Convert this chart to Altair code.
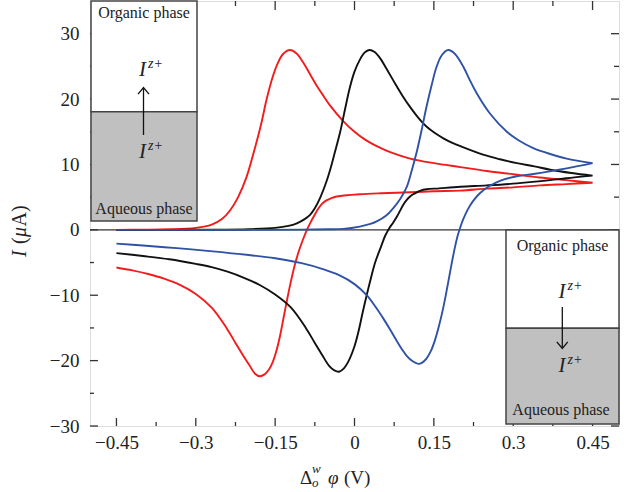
import altair as alt
import pandas as pd

# ---------------- data (potential in V, current in uA) -------------
red_fwd_x = [-0.45, -0.40, -0.35, -0.30, -0.27, -0.25, -0.235, -0.22, -0.204, -0.19, -0.177, -0.166,
             -0.155, -0.145, -0.135, -0.122, -0.11, -0.097, -0.084, -0.071, -0.058, -0.046, -0.021,
             0.0, 0.02, 0.042, 0.07, 0.105, 0.15, 0.2, 0.25, 0.3, 0.35, 0.4, 0.45]
red_fwd_y = [0.0, 0.02, 0.08, 0.3, 0.8, 1.7, 3.0, 5.0, 8.1, 12.0, 16.0, 20.0,
             23.3, 25.5, 26.9, 27.5, 27.0, 25.6, 23.8, 22.0, 20.4, 19.0, 16.6,
             15.0, 13.8, 12.8, 11.8, 10.9, 10.2, 9.6, 9.0, 8.5, 8.0, 7.6, 7.2]
red_rev_x = [0.45, 0.4, 0.35, 0.3, 0.25, 0.2, 0.15, 0.105, 0.05, 0.01, -0.02, -0.034, -0.045, -0.053,
             -0.061, -0.068, -0.076, -0.084, -0.09, -0.097, -0.105, -0.113, -0.12, -0.127, -0.134,
             -0.141, -0.148, -0.155, -0.162, -0.17, -0.179, -0.188, -0.198, -0.21, -0.225, -0.242,
             -0.27, -0.30, -0.33, -0.36, -0.39, -0.42, -0.45]
red_rev_y = [7.2, 7.0, 6.8, 6.5, 6.3, 6.0, 5.9, 5.75, 5.6, 5.45, 5.25, 5.1, 4.8, 4.5,
             4.0, 3.3, 2.2, 1.0, 0.0, -1.4, -3.2, -5.4, -7.8, -10.5, -13.4,
             -16.3, -18.6, -20.3, -21.4, -22.1, -22.4, -22.0, -20.8, -19.3, -17.3, -15.0,
             -11.9, -9.8, -8.4, -7.45, -6.75, -6.2, -5.75]

black_fwd_x = [-0.45, -0.35, -0.25, -0.2, -0.15, -0.125, -0.109, -0.095, -0.084, -0.075, -0.065,
               -0.053, -0.046, -0.037, -0.027, -0.018, -0.009, 0.0, 0.01, 0.019, 0.028, 0.038,
               0.048, 0.06, 0.073, 0.09, 0.105, 0.12, 0.136, 0.152, 0.168, 0.185, 0.2, 0.243,
               0.275, 0.307, 0.34, 0.37, 0.41, 0.45]
black_fwd_y = [0.0, 0.0, 0.03, 0.1, 0.3, 0.6, 1.0, 1.6, 2.3, 3.3, 4.9,
               7.4, 9.2, 11.9, 15.0, 18.4, 21.7, 24.2, 26.0, 27.1, 27.5, 27.2,
               26.3, 24.7, 22.9, 20.6, 18.8, 17.2, 15.8, 14.8, 14.0, 13.3, 12.8, 11.5,
               10.8, 10.2, 9.7, 9.2, 8.7, 8.3]
black_rev_x = [0.45, 0.4, 0.37, 0.307, 0.25, 0.2, 0.16, 0.136, 0.125, 0.117, 0.11, 0.105, 0.098,
               0.092, 0.086, 0.08, 0.073, 0.066, 0.058, 0.05, 0.039, 0.031, 0.023, 0.015, 0.008,
               0.0, -0.012, -0.02, -0.029, -0.038, -0.048, -0.06, -0.075, -0.092, -0.12, -0.15,
               -0.18, -0.21, -0.24, -0.27, -0.3, -0.35, -0.4, -0.45]
black_rev_y = [8.3, 7.9, 7.6, 7.1, 6.8, 6.6, 6.35, 6.2, 6.0, 5.7, 5.4, 5.1, 4.5,
               3.8, 2.9, 2.0, 1.1, 0.3, -0.9, -2.6, -5.0, -7.4, -10.0, -12.8, -15.4,
               -17.8, -20.2, -21.2, -21.7, -21.5, -20.8, -19.3, -17.3, -15.0, -11.9, -9.9,
               -8.4, -7.3, -6.4, -5.7, -5.2, -4.5, -4.0, -3.56]

blue_fwd_x = [-0.45, -0.2, -0.1, -0.05, -0.021, 0.01, 0.03, 0.042, 0.06, 0.073, 0.087, 0.099,
              0.108, 0.117, 0.127, 0.136, 0.146, 0.155, 0.165, 0.177, 0.19, 0.206, 0.218, 0.231,
              0.256, 0.288, 0.31, 0.338, 0.37, 0.401, 0.45]
blue_fwd_y = [0.0, 0.0, 0.03, 0.08, 0.15, 0.5, 0.9, 1.3, 2.2, 3.3, 4.8, 6.6,
              9.0, 11.7, 15.3, 18.8, 22.2, 24.9, 26.7, 27.5, 26.9, 24.9, 22.9, 20.9,
              17.8, 15.0, 13.7, 12.5, 11.6, 10.9, 10.2]
blue_rev_x = [0.45, 0.401, 0.338, 0.307, 0.275, 0.255, 0.237, 0.224, 0.214, 0.206, 0.2, 0.195,
              0.19, 0.185, 0.179, 0.173, 0.167, 0.16, 0.152, 0.144, 0.136, 0.128, 0.121, 0.11,
              0.099, 0.09, 0.08, 0.067, 0.054, 0.04, 0.023, 0.0, -0.03, -0.06, -0.1, -0.15,
              -0.2, -0.273, -0.336, -0.4, -0.45]
blue_rev_y = [10.2, 9.4, 8.55, 8.2, 7.5, 6.7, 5.6, 4.4, 3.1, 1.7, 0.4, -0.9,
              -2.6, -4.6, -7.2, -9.8, -12.2, -14.6, -16.9, -18.6, -19.7, -20.3, -20.5, -20.1,
              -19.3, -18.3, -17.0, -15.2, -13.5, -11.8, -10.0, -8.3, -6.9, -6.0, -5.1, -4.35,
              -3.85, -3.25, -2.8, -2.4, -2.1]

curve_names = ["red", "black", "blue"]
curve_colors = ["#f21c1c", "#111111", "#2f52a5"]

x_major = [-0.45, -0.3, -0.15, 0, 0.15, 0.3, 0.45]
x_minor = [-0.375, -0.225, -0.075, 0.075, 0.225, 0.375]
y_major = [-30, -20, -10, 0, 10, 20, 30]
y_minor = [-25, -15, -5, 5, 15, 25]

# ---------------- build table ----------------
rows = []
for name, fx, fy, rx, ry in [
    ("red", red_fwd_x, red_fwd_y, red_rev_x, red_rev_y),
    ("black", black_fwd_x, black_fwd_y, black_rev_x, black_rev_y),
    ("blue", blue_fwd_x, blue_fwd_y, blue_rev_x, blue_rev_y),
]:
    k = 0
    for a, b in list(zip(fx, fy)) + list(zip(rx, ry)):
        rows.append({"curve": name, "V": a, "I": b, "k": k})
        k += 1
df = pd.DataFrame(rows)

W, H = 529, 425
FONT = "Liberation Serif"
INK = "#222222"
FRAME = "#333333"

xs = alt.Scale(domain=[-0.5, 0.5], nice=False, zero=False)
ys = alt.Scale(domain=[-30, 35], nice=False, zero=False)

axis_common = dict(title=None, ticks=False, tickSize=0, domain=False, grid=False,
                   labelFont=FONT, labelFontSize=19, labelColor=INK,
                   labelOverlap=False, labelFlush=False)
XAXIS = alt.Axis(values=x_major, labelPadding=7, format=".2~f", **axis_common)
YAXIS = alt.Axis(values=y_major, labelPadding=11, format=".0f", **axis_common)

curves = alt.Chart(df).mark_line(strokeWidth=1.9, clip=True, interpolate="catmull-rom").encode(
    x=alt.X("V:Q", scale=xs, axis=XAXIS, title=None),
    y=alt.Y("I:Q", scale=ys, axis=YAXIS, title=None),
    color=alt.Color("curve:N", scale=alt.Scale(domain=curve_names, range=curve_colors), legend=None),
    order="k:Q",
)

zero_line = alt.Chart(pd.DataFrame({"z": [0]})).mark_rule(color=FRAME, strokeWidth=1.2).encode(
    y=alt.Y("z:Q", scale=ys, axis=YAXIS, title=None), x=alt.value(0), x2=alt.value(W))


def xticks(vals, y1, y2):
    return alt.Chart(pd.DataFrame({"t": vals})).mark_rule(color=FRAME, strokeWidth=1.3).encode(
        x=alt.X("t:Q", scale=xs, axis=XAXIS, title=None), y=alt.value(y1), y2=alt.value(y2))


def yticks(vals, x1, x2):
    return alt.Chart(pd.DataFrame({"t": vals})).mark_rule(color=FRAME, strokeWidth=1.3).encode(
        y=alt.Y("t:Q", scale=ys, axis=YAXIS, title=None), x=alt.value(x1), x2=alt.value(x2))


ticks = [
    xticks(x_major, H, H - 8), xticks(x_minor, H, H - 4),
    xticks(x_major, 0, 9), xticks(x_minor, 0, 5),
    yticks(y_major, 0, 8), yticks(y_minor, 0, 4),
    yticks(y_major, W, W - 8), yticks(y_minor, W, W - 5),
]

one = pd.DataFrame({"a": [0]})


def box(x1, x2, y1, y2, fill):
    return alt.Chart(one).mark_rect(fill=fill, stroke="#444444", strokeWidth=1.5).encode(
        x=alt.value(x1), x2=alt.value(x2), y=alt.value(y1), y2=alt.value(y2))


def txt(s, x, y, size=16, style="normal", align="center", baseline="middle", angle=0):
    return alt.Chart(one).mark_text(text=s, font=FONT, fontSize=size, fontStyle=style,
                                    align=align, baseline=baseline, angle=angle, color=INK).encode(
        x=alt.value(x), y=alt.value(y))


def shaft(x, y1, y2):
    return alt.Chart(one).mark_rule(color="#111111", strokeWidth=1.3).encode(
        x=alt.value(x), y=alt.value(y1), y2=alt.value(y2))


def head(x, y, up=True):
    path = "M-1,1.2L0,0L1,1.2" if up else "M-1,-1.2L0,0L1,-1.2"
    return alt.Chart(one).mark_point(shape=path, filled=False, size=121, color="#111111",
                                     strokeWidth=1.3, opacity=1).encode(
        x=alt.value(x), y=alt.value(y))


insets = [
    # left inset: transfer aqueous -> organic
    box(1, 107, 0, 110.7, "#ffffff"), box(1, 107, 110.7, 220, "#c0c0c0"),
    txt("Organic phase", 54, 12),
    txt("I", 52.5, 69, size=21, style="italic"), txt("z+", 58, 63, size=14, style="italic", align="left"),
    shaft(53.5, 134, 87.5), head(53.5, 86.5, up=True),
    txt("I", 52.5, 151, size=21, style="italic"), txt("z+", 58, 145, size=14, style="italic", align="left"),
    txt("Aqueous phase", 54, 208),
    # right inset: transfer organic -> aqueous
    box(416, W, 229, 327.3, "#ffffff"), box(416, W, 327.3, 423, "#c0c0c0"),
    txt("Organic phase", 472.5, 245),
    txt("I", 472, 290.5, size=21, style="italic"), txt("z+", 477.5, 284.5, size=14, style="italic", align="left"),
    shaft(472.3, 306, 346.5), head(472.3, 347.5, up=False),
    txt("I", 472, 364.5, size=21, style="italic"), txt("z+", 477.5, 358.5, size=14, style="italic", align="left"),
    txt("Aqueous phase", 471, 409),
]

titles = [
    # x-axis title:  Δ_o^w φ (V)
    txt("Δ", 210, 483, size=19, align="left", baseline="alphabetic"),
    txt("w", 222, 472, size=13, style="italic", align="left", baseline="alphabetic"),
    txt("o", 222, 486, size=13, style="italic", align="left", baseline="alphabetic"),
    txt("φ", 238, 483, size=19, style="italic", align="left", baseline="alphabetic"),
    txt("(V)", 254, 483, size=19, align="left", baseline="alphabetic"),
    # y-axis title:  I (μA)
    txt("I", -64, 256, size=20, style="italic", align="left", baseline="alphabetic", angle=270),
    txt("(", -64, 243, size=20, align="left", baseline="alphabetic", angle=270),
    txt("μ", -64, 236, size=20, style="italic", align="left", baseline="alphabetic", angle=270),
    txt("A)", -64, 225.5, size=20, align="left", baseline="alphabetic", angle=270),
]

chart = alt.layer(zero_line, *ticks, curves, *insets, *titles).properties(
    width=W, height=H,
    autosize=alt.AutoSizeParams(type="none"),
    padding={"left": 90, "top": 1, "right": 9, "bottom": 66},
).configure_view(stroke=FRAME, strokeWidth=1.5).configure(font=FONT, background="#ffffff")

chart.save("out.html", embed_options={"renderer": "svg", "actions": False})
